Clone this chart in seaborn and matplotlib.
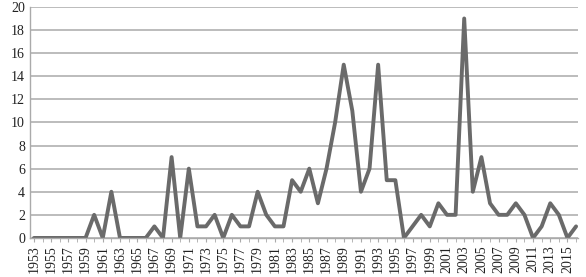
import matplotlib
matplotlib.use("Agg")
import matplotlib.pyplot as plt
import seaborn as sns
import pandas as pd

years = list(range(1953, 2017))
counts = [0, 0, 0, 0, 0, 0, 0, 2, 0, 4,
          0, 0, 0, 0, 1, 0, 7, 0, 6, 1,
          1, 2, 0, 2, 1, 1, 4, 2, 1, 1,
          5, 4, 6, 3, 6, 10, 15, 11, 4, 6,
          15, 5, 5, 0, 1, 2, 1, 3, 2, 2,
          19, 4, 7, 3, 2, 2, 3, 2, 0, 1,
          3, 2, 0, 1]
tick_years = years[::2]

df = pd.DataFrame({'year': years, 'count': counts})

sns.set_style('white')
plt.rcParams['font.family'] = ['Liberation Serif', 'DejaVu Serif']

fig = plt.figure(figsize=(5.86, 2.77), dpi=100)
ax = fig.add_axes([0.052, 0.141, 0.934, 0.834])

sns.lineplot(data=df, x='year', y='count', color='#6a6a6a', lw=2.8, ax=ax)

ax.set_ylim(0, 20)
ax.set_yticks(range(0, 21, 2))
ax.set_xlim(1952.6, 2016.2)
ax.set_xticks(tick_years)
ax.set_xticklabels([str(y) for y in tick_years], rotation=90, fontsize=10, color='#222222')
ax.set_xticks(years, minor=True)
ax.tick_params(axis='y', labelsize=10, colors='#222222', length=0, pad=4)
ax.tick_params(axis='x', which='both', length=3, color='#aaaaaa', pad=2, direction='out', bottom=True)
ax.yaxis.grid(True, color='#b0b0b0', lw=1.2)
ax.set_axisbelow(True)
ax.set_xlabel('')
ax.set_ylabel('')
for s in ['top', 'right']:
    ax.spines[s].set_visible(False)
for s in ['left', 'bottom']:
    ax.spines[s].set_color('#aaaaaa')
    ax.spines[s].set_linewidth(1)

fig.savefig('out.png', dpi=100)
